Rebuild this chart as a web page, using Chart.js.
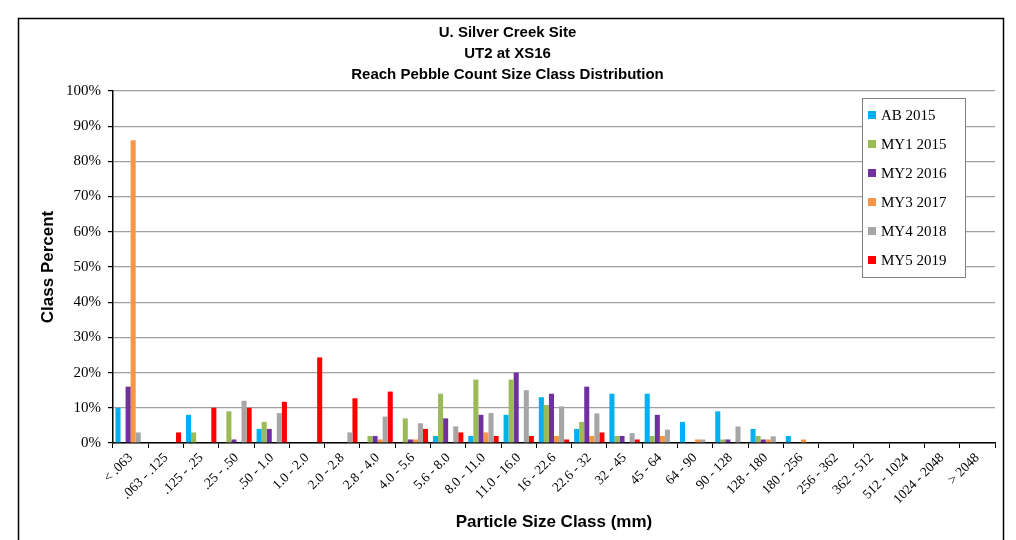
<!DOCTYPE html>
<html>
<head>
<meta charset="utf-8">
<title>UT2 at XS16 - Pebble Count</title>
<script src="https://cdn.jsdelivr.net/npm/chart.js@4/dist/chart.umd.min.js"></script>
<style>
  html, body { margin: 0; padding: 0; background: #fff; }
  #wrap { width: 1016px; height: 540px; }
</style>
</head>
<body>
<div id="wrap"><canvas id="myChart" width="1016" height="540"></canvas></div>
<script>
// Size classes (mm)
const sizeClasses = ['< .063', '.063 - .125', '.125 - .25', '.25 - .50', '.50 - 1.0', '1.0 - 2.0',
  '2.0 - 2.8', '2.8 - 4.0', '4.0 - 5.6', '5.6 - 8.0', '8.0 - 11.0', '11.0 - 16.0', '16 - 22.6',
  '22.6 - 32', '32 - 45', '45 - 64', '64 - 90', '90 - 128', '128 - 180', '180 - 256',
  '256 - 362', '362 - 512', '512 - 1024', '1024 - 2048', '> 2048'];

// Class percent per survey
const ab2015  = [10, 0, 8, 0, 4, 0, 0, 0, 0, 2, 2, 8, 13, 4, 14, 14, 6, 9, 4, 2, 0, 0, 0, 0, 0];
const my12015 = [0, 0, 3, 9, 6, 0, 0, 2, 7, 14, 18, 18, 10.8, 6, 2, 2, 0, 1, 2, 0, 0, 0, 0, 0, 0];
const my22016 = [16, 0, 0, 1, 4, 0, 0, 2, 1, 7, 8, 20, 14, 16, 2, 8, 0, 1, 1, 0, 0, 0, 0, 0, 0];
const my32017 = [86, 0, 0, 0, 0, 0, 0, 1, 1, 0, 3, 0, 2, 2, 0, 2, 1, 0, 1, 1, 0, 0, 0, 0, 0];
const my42018 = [3, 0, 0, 12, 8.5, 0, 3, 7.5, 5.6, 4.7, 8.5, 15, 10.4, 8.4, 2.8, 3.8, 1, 4.7, 1.9, 0, 0, 0, 0, 0, 0];
const my52019 = [0, 3, 10, 10, 11.7, 24.3, 12.7, 14.6, 4, 3, 2, 2, 1, 3, 1, 0, 0, 0, 0, 0, 0, 0, 0, 0, 0];

const yTicks = [0, 10, 20, 30, 40, 50, 60, 70, 80, 90, 100];

const seriesNames = ['AB 2015', 'MY1 2015', 'MY2 2016', 'MY3 2017', 'MY4 2018', 'MY5 2019'];
const seriesData = [ab2015, my12015, my22016, my32017, my42018, my52019];
const seriesColors = ['#00B0F0', '#9BBB59', '#7030A0', '#F79646', '#A6A6A6', '#FF0000'];

const serif = "'Liberation Serif', 'Times New Roman', serif";
const sans = "'Liberation Sans', Arial, sans-serif";

// outer frame around the whole chart
const framePlugin = {
  id: 'frame',
  beforeDraw(chart) {
    const ctx = chart.ctx;
    ctx.save();
    ctx.strokeStyle = '#000';
    ctx.lineWidth = 1.5;
    ctx.strokeRect(18.5, 18.5, 985, 600);
    ctx.restore();
  }
};

// boxed legend sitting inside the plot, top right
const boxLegend = {
  id: 'boxLegend',
  afterDraw(chart) {
    const ctx = chart.ctx;
    const x = 862, y = 98, w = 103, h = 179;
    ctx.save();
    ctx.fillStyle = '#fff';
    ctx.fillRect(x, y, w, h);
    ctx.strokeStyle = '#808080';
    ctx.lineWidth = 1;
    ctx.strokeRect(x + 0.5, y + 0.5, w, h);
    ctx.font = '15px ' + serif;
    ctx.textBaseline = 'middle';
    chart.data.datasets.forEach((ds, i) => {
      const cy = y + 17 + i * 29;
      ctx.fillStyle = ds.backgroundColor;
      ctx.fillRect(x + 6, cy - 4, 8, 8);
      ctx.fillStyle = '#000';
      ctx.fillText(ds.label, x + 19, cy + 1);
    });
    ctx.restore();
  }
};

const ctx = document.getElementById('myChart').getContext('2d');
const myChart = new Chart(ctx, {
  type: 'bar',
  data: {
    labels: sizeClasses,
    datasets: seriesNames.map((name, i) => ({
      label: name,
      data: seriesData[i],
      backgroundColor: seriesColors[i],
      borderWidth: 0,
      categoryPercentage: 0.86,
      barPercentage: 1.0
    }))
  },
  options: {
    responsive: false,
    animation: false,
    layout: { padding: { left: 20, right: 21, top: 20, bottom: 6 } },
    plugins: {
      legend: { display: false },
      tooltip: { enabled: false },
      title: {
        display: true,
        text: ['U. Silver Creek Site', 'UT2 at XS16', 'Reach Pebble Count Size Class Distribution'],
        color: '#000',
        font: { family: sans, size: 15, weight: 'bold', lineHeight: 1.42 },
        padding: { top: 2, bottom: 5 }
      }
    },
    scales: {
      x: {
        grid: { drawOnChartArea: false, drawTicks: true, tickLength: 5, color: '#000', offset: true },
        border: { color: '#000', width: 1.5 },
        ticks: {
          color: '#000',
          font: { family: serif, size: 13.5 },
          maxRotation: 45,
          minRotation: 45,
          autoSkip: false,
          padding: 2
        },
        title: {
          display: true,
          text: 'Particle Size Class (mm)',
          color: '#000',
          font: { family: sans, size: 17, weight: 'bold' },
          padding: { top: 0, bottom: 1 }
        },
        afterFit(scale) { scale.height = 540 - 443 - 6; }
      },
      y: {
        min: 0,
        max: 100,
        afterBuildTicks(scale) { scale.ticks = yTicks.map(v => ({ value: v })); },
        grid: { color: '#A0A0A0', lineWidth: 1.2, drawTicks: true, tickLength: 5,
                tickColor: '#000' },
        border: { color: '#000', width: 1.5 },
        ticks: {
          color: '#000',
          font: { family: serif, size: 15 },
          padding: 7,
          callback: v => v + '%'
        },
        title: {
          display: true,
          text: 'Class Percent',
          color: '#000',
          font: { family: sans, size: 17, weight: 'bold' },
          padding: { top: 18, bottom: 4 }
        },
        afterFit(scale) { scale.width = 113 - 20; }
      }
    }
  },
  plugins: [framePlugin, boxLegend]
});
</script>
</body>
</html>
